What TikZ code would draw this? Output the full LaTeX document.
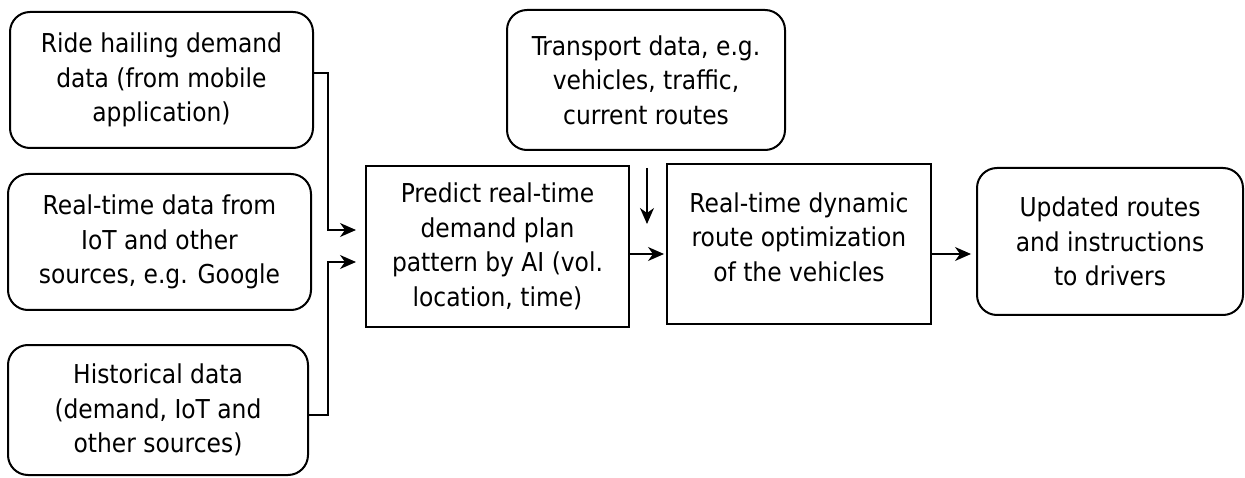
\documentclass[tikz,border=0pt]{standalone}
\usepackage{fontspec}
\setmainfont{DejaVu Sans Condensed}
\usetikzlibrary{arrows.meta}
\begin{document}
\begin{tikzpicture}[x=1pt,y=-1pt,
  txt/.style={align=center,font=\fontsize{26pt}{34.5pt}\selectfont,inner sep=0pt},
  rbox/.style={txt,draw,line width=2pt,rounded corners=20pt},
  sbox/.style={txt,draw,line width=2pt},
  arr/.style={line width=1.3pt,-{Stealth[length=16pt,width=14pt,inset=5pt]}}
]
\useasboundingbox (0,0) rectangle (1245,478);
\node[rbox,minimum width=303pt,minimum height=136pt] (r1) at (161.5,80) {Ride hailing demand\\data (from mobile\\application)};
\node[rbox,minimum width=303pt,minimum height=136pt] (r2) at (159.5,242) {Real-time data from\\IoT and other\\sources, e.g. Google};
\node[rbox,minimum width=300pt,minimum height=130pt] (r3) at (158,410) {Historical data\\(demand, IoT and\\other sources)};
\node[sbox,minimum width=263pt,minimum height=161pt] (pred) at (497.5,246.5) {Predict real-time\\demand plan\\pattern by AI (vol.\\location, time)};
\node[rbox,minimum width=278pt,minimum height=140pt] (trans) at (646,80) {Transport data, e.g.\\vehicles, traffic,\\current routes};
\node[sbox,minimum width=264pt,minimum height=160pt,text depth=14pt] (route) at (799,244) {Real-time dynamic\\route optimization\\of the vehicles};
\node[rbox,minimum width=266pt,minimum height=147pt] (upd) at (1110,241.5) {Updated routes\\and instructions\\to drivers};
\draw[arr,shorten >=9pt] ([yshift=7pt]r1.east) -- ++(14,0) |- ([yshift=16.5pt]pred.west);
\draw[arr,shorten >=9pt] ([yshift=-5pt]r3.east) -- ++(19,0) |- ([yshift=-15.5pt]pred.west);
\draw[arr,shorten >=2pt] ([yshift=-7.5pt]pred.east) -- ([yshift=-10pt]route.west);
\draw[arr] ([xshift=1pt,yshift=-17pt]trans.south) -- ++(0,56);
\draw[arr,shorten >=5pt] ([yshift=-10pt]route.east) -- ([yshift=-12.5pt]upd.west);
\end{tikzpicture}
\end{document}
